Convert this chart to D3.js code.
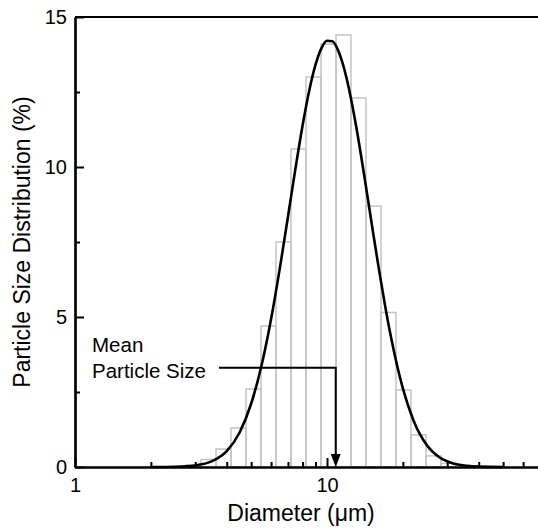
<!DOCTYPE html>
<html>
<head>
<meta charset="utf-8">
<script src="https://cdn.jsdelivr.net/npm/d3@7"></script>
<style>
  body { margin: 0; background: #fff; }
  text { font-family: "Liberation Sans", Arial, sans-serif; }
</style>
</head>
<body>
<svg id="chart" width="538" height="528"></svg>
<script>
// histogram bins (lower/upper edges in um) and volume %
var binEdges = [2.758, 3.162, 3.627, 4.159, 4.771, 5.471, 6.275, 7.197, 8.254, 9.467,
  10.86, 12.45, 14.28, 16.38, 18.78, 21.54, 24.71, 28.34, 32.50];
var binValues = [0.07, 0.25, 0.6, 1.3, 2.6, 4.7, 7.5, 10.6, 13.0, 14.1,
  14.4, 12.3, 8.7, 5.15, 2.57, 1.07, 0.37, 0.12];

// fitted curve
var fitDiameter = [2, 2.5, 3, 3.5, 4, 4.5, 5, 5.5, 6, 6.5, 7, 7.5, 8, 8.5, 9, 9.5, 10, 10.5,
  11, 11.5, 12, 13, 14, 15, 16, 17, 18, 20, 22, 25, 28, 32, 36, 40, 50];
var fitValue = [0.001, 0.009, 0.052, 0.194, 0.531, 1.151, 2.108, 3.392, 4.935, 6.628, 8.343,
  9.961, 11.384, 12.545, 13.405, 13.954, 14.207, 14.189, 13.938, 13.497, 12.908, 11.441,
  9.802, 8.181, 6.688, 5.380, 4.273, 2.621, 1.568, 0.707, 0.315, 0.108, 0.037, 0.013, 0.001];

var meanSize = 10.83;
var xMajorTicks = [1, 10];
var xMinorTicks = [2, 3, 4, 5, 6, 7, 8, 9, 20, 30, 40, 50, 60, 70, 80, 90];
var yMajorTicks = [0, 5, 10, 15];
var yMinorTicks = [2.5, 7.5, 12.5];

var svg = d3.select('#chart');

var x = d3.scaleLog().domain([1, 100]).range([75, 579]),
  y = d3.scaleLinear().domain([0, 15]).range([467, 17]);

// bars
svg.append('g')
  .selectAll('rect')
  .data(binValues)
  .join('rect')
    .attr('x', function(d, i) { return x(binEdges[i]); })
    .attr('y', function(d) { return y(d); })
    .attr('width', function(d, i) { return x(binEdges[i + 1]) - x(binEdges[i]); })
    .attr('height', function(d) { return y(0) - y(d); })
    .attr('fill', 'none')
    .attr('stroke', '#c4c4c4')
    .attr('stroke-width', 1.5);

// fit curve
var line = d3.line()
  .x(function(d, i) { return x(fitDiameter[i]); })
  .y(function(d) { return y(d); })
  .curve(d3.curveMonotoneX);

svg.append('path')
  .attr('d', line(fitValue))
  .attr('fill', 'none')
  .attr('stroke', '#000')
  .attr('stroke-width', 2.6);

// axes, ticks pointing inward
var axisStyle = function(g) {
  g.attr('font-size', 20)
    .attr('font-family', '"Liberation Sans", Arial, sans-serif');
  g.selectAll('.domain').attr('stroke-width', 2.2);
  g.selectAll('.tick line').attr('stroke-width', 2);
};

svg.append('g')
  .attr('transform', 'translate(0,' + y(0) + ')')
  .call(d3.axisBottom(x).tickValues(xMinorTicks).tickFormat('').tickSize(-5).tickSizeOuter(0))
  .call(axisStyle);

svg.append('g')
  .attr('transform', 'translate(0,' + y(0) + ')')
  .call(d3.axisBottom(x).tickValues(xMajorTicks).tickFormat(d3.format('d')).tickSize(-9).tickPadding(11).tickSizeOuter(0))
  .call(axisStyle);

svg.append('g')
  .attr('transform', 'translate(' + x(1) + ',0)')
  .call(d3.axisLeft(y).tickValues(yMinorTicks).tickFormat('').tickSize(-5).tickSizeOuter(0))
  .call(axisStyle);

svg.append('g')
  .attr('transform', 'translate(' + x(1) + ',0)')
  .call(d3.axisLeft(y).tickValues(yMajorTicks).tickFormat(d3.format('d')).tickSize(-9).tickPadding(8).tickSizeOuter(0))
  .call(axisStyle);

// top frame
svg.append('line')
  .attr('x1', x(1)).attr('x2', x(100))
  .attr('y1', y(15)).attr('y2', y(15))
  .attr('stroke', '#000')
  .attr('stroke-width', 2.2);

// mean particle size annotation
var annY = y(3.31),
  mx = x(meanSize);

svg.append('path')
  .attr('d', 'M219,' + annY + 'H' + mx + 'V' + (y(0) - 12))
  .attr('fill', 'none')
  .attr('stroke', '#000')
  .attr('stroke-width', 2);

svg.append('path')
  .attr('d', 'M' + (mx - 5) + ',' + (y(0) - 13) + 'L' + (mx + 5) + ',' + (y(0) - 13) + 'L' + mx + ',' + y(0) + 'Z')
  .attr('fill', '#000');

svg.append('text')
  .attr('x', 92).attr('y', 352)
  .attr('font-size', 20.5)
  .text('Mean');

svg.append('text')
  .attr('x', 92).attr('y', 377.5)
  .attr('font-size', 20.5)
  .text('Particle Size');

// axis titles
svg.append('text')
  .attr('x', 301).attr('y', 521)
  .attr('text-anchor', 'middle')
  .attr('font-size', 23)
  .text('Diameter (\u03bcm)');

svg.append('text')
  .attr('transform', 'translate(30,' + ((y(0) + y(15)) / 2) + ') rotate(-90)')
  .attr('text-anchor', 'middle')
  .attr('font-size', 23)
  .text('Particle Size Distribution (%)');
</script>
</body>
</html>
